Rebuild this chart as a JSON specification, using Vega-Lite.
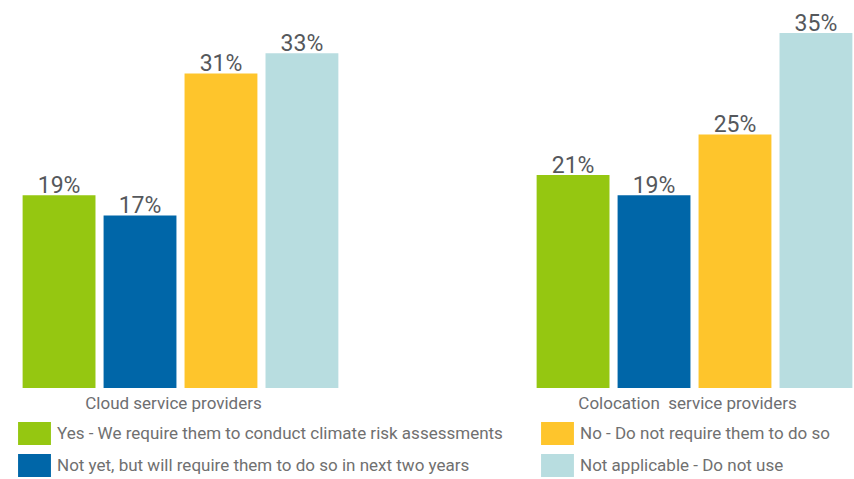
{
  "$schema": "https://vega.github.io/schema/vega-lite/v6.json",
  "width": 833,
  "height": 355,
  "autosize": {"type": "none"},
  "padding": {"left": 21, "top": 33, "right": 0, "bottom": 91},
  "config": {"view": {"stroke": null}, "font": "Roboto"},
  "data": {
    "values": [
      {"provider": "Cloud service providers", "response": "Yes - We require them to conduct climate risk assessments", "pct": 0.19},
      {"provider": "Cloud service providers", "response": "Not yet, but will require them to do so in next two years", "pct": 0.17},
      {"provider": "Cloud service providers", "response": "No - Do not require them to do so", "pct": 0.31},
      {"provider": "Cloud service providers", "response": "Not applicable - Do not use", "pct": 0.33},
      {"provider": "Colocation\u00a0 service providers", "response": "Yes - We require them to conduct climate risk assessments", "pct": 0.21},
      {"provider": "Colocation\u00a0 service providers", "response": "Not yet, but will require them to do so in next two years", "pct": 0.19},
      {"provider": "Colocation\u00a0 service providers", "response": "No - Do not require them to do so", "pct": 0.25},
      {"provider": "Colocation\u00a0 service providers", "response": "Not applicable - Do not use", "pct": 0.35}
    ]
  },
  "encoding": {
    "x": {
      "field": "provider", "type": "nominal",
      "sort": ["Cloud service providers", "Colocation\u00a0 service providers"],
      "scale": {"paddingInner": 0.3794, "paddingOuter": 0},
      "axis": {"title": null, "labelAngle": 0, "domain": false, "ticks": false, "labelFontSize": 17, "labelColor": "#6d6e71", "labelPadding": 7, "labelOffset": -7, "labelLimit": 0}
    },
    "xOffset": {
      "field": "response", "type": "nominal",
      "sort": ["Yes - We require them to conduct climate risk assessments", "Not yet, but will require them to do so in next two years", "No - Do not require them to do so", "Not applicable - Do not use"],
      "scale": {"paddingInner": 0.1, "paddingOuter": 0.02}
    },
    "y": {"field": "pct", "type": "quantitative", "scale": {"domain": [0, 0.35]}, "axis": null}
  },
  "layer": [
    {
      "mark": {"type": "bar"},
      "encoding": {
        "color": {
          "field": "response", "type": "nominal",
          "scale": {
            "domain": ["Yes - We require them to conduct climate risk assessments", "Not yet, but will require them to do so in next two years", "No - Do not require them to do so", "Not applicable - Do not use"],
            "range": ["#95c711", "#0066a8", "#fec52c", "#b8dde0"]
          },
          "legend": {
            "title": null, "orient": "none", "legendX": 2, "legendY": 389, "columns": 2,
            "values": ["Yes - We require them to conduct climate risk assessments", "Not yet, but will require them to do so in next two years", "No - Do not require them to do so", "Not applicable - Do not use"],
            "symbolType": "M-1.43,-1H1.43V1H-1.43Z", "symbolSize": 529, "symbolStrokeWidth": 0, "symbolOpacity": 1,
            "labelFontSize": 17, "labelColor": "#707070", "labelOffset": 11, "labelLimit": 0,
            "rowPadding": 9, "columnPadding": 38, "padding": 0
          }
        }
      }
    },
    {
      "mark": {"type": "text", "baseline": "alphabetic", "dy": -2.5, "fontSize": 23, "color": "#55585c"},
      "encoding": {"text": {"field": "pct", "type": "quantitative", "format": ".0%"}}
    }
  ]
}
